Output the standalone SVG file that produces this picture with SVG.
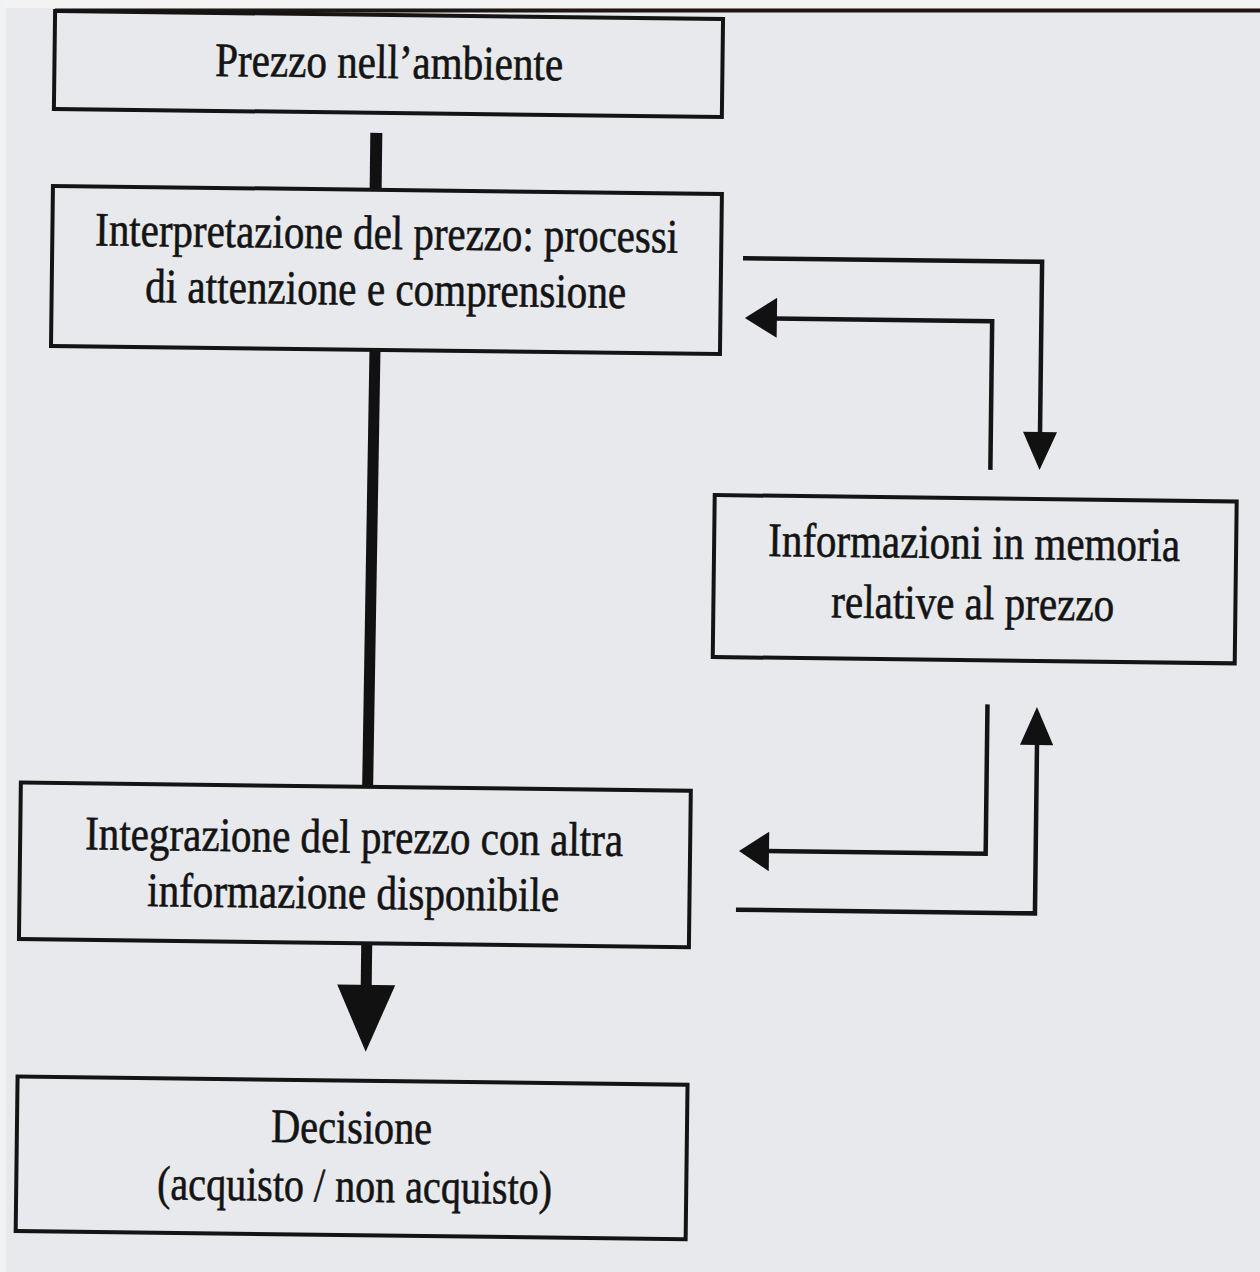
<svg xmlns="http://www.w3.org/2000/svg" width="1260" height="1272" viewBox="0 0 1260 1272">
  <style>
    .box { fill: none; stroke: #141414; stroke-width: 4; }
    .link { fill: none; stroke: #141414; stroke-width: 4.5; }
    .trunk { fill: none; stroke: #111; }
    .head { fill: #111; stroke: none; }
    .lbl { font-family: "Liberation Serif", "Times New Roman", serif; font-size: 48px; fill: #141414; stroke: #141414; stroke-width: 0.6; text-anchor: middle; }
  </style>

  <!-- page -->
  <rect x="0" y="0" width="1260" height="1272" fill="#e7e9ed"/>
  <rect x="0" y="0" width="1260" height="8" fill="#f3f3f4"/>
  <rect x="0" y="0" width="6" height="1272" fill="#f1f2f4"/>
  <line x1="55" y1="10.5" x2="1260" y2="10.5" stroke="#1e1712" stroke-width="4"/>

  <g transform="rotate(0.7 630 636)">
    <!-- connectors -->
    <g id="connectors">
      <!-- main flow -->
      <line class="trunk" x1="370.2" y1="136" x2="370.2" y2="193" stroke-width="12"/>
      <line class="trunk" x1="371.5" y1="353" x2="369.5" y2="790" stroke-width="11"/>
      <line class="trunk" x1="370.5" y1="946.5" x2="370.5" y2="990" stroke-width="11"/>
      <polygon class="head" points="341.5,988 399.5,988 370.8,1055"/>

      <!-- interpretation -> memory -->
      <path class="link" d="M738.4 256.8 H1037.5 V430"/>
      <polygon class="head" points="1020.5,427 1054.5,427 1037.5,465"/>

      <!-- memory -> interpretation -->
      <path class="link" d="M988.3 465.5 V316.8 H770"/>
      <polygon class="head" points="773,296 773,336 741,316.6"/>

      <!-- memory -> integration -->
      <path class="link" d="M988.3 700 V849.4 H768"/>
      <polygon class="head" points="771.6,830 771.6,869.5 741.6,849.6"/>

      <!-- integration -> memory -->
      <path class="link" d="M739.3 908.4 H1038.3 V738"/>
      <polygon class="head" points="1021.3,740 1054.5,740 1037.8,702"/>
    </g>

    <g id="node-prezzo-ambiente">
      <rect class="box" x="47.5" y="18" width="668" height="98"/>
      <text class="lbl" x="382.2" y="81" textLength="348" lengthAdjust="spacingAndGlyphs">Prezzo nell’ambiente</text>
    </g>

    <g id="node-interpretazione">
      <rect class="box" x="47.5" y="193" width="669" height="160"/>
      <text class="lbl" x="381.8" y="252" textLength="583" lengthAdjust="spacingAndGlyphs">Interpretazione del prezzo: processi</text>
      <text class="lbl" x="381.5" y="308" textLength="481" lengthAdjust="spacingAndGlyphs">di attenzione e comprensione</text>
    </g>

    <g id="node-memoria">
      <rect class="box" x="713" y="494" width="522" height="162"/>
      <text class="lbl" x="973" y="554.3" textLength="412" lengthAdjust="spacingAndGlyphs">Informazioni in memoria</text>
      <text class="lbl" x="972.3" y="614.8" textLength="283" lengthAdjust="spacingAndGlyphs">relative al prezzo</text>
    </g>

    <g id="node-integrazione">
      <rect class="box" x="22.7" y="790" width="670" height="156.5"/>
      <text class="lbl" x="356.6" y="856" textLength="538" lengthAdjust="spacingAndGlyphs">Integrazione del prezzo con altra</text>
      <text class="lbl" x="356.3" y="912" textLength="412" lengthAdjust="spacingAndGlyphs">informazione disponibile</text>
    </g>

    <g id="node-decisione">
      <rect class="box" x="23" y="1084" width="670" height="154.5"/>
      <text class="lbl" x="357.7" y="1146.4" textLength="161" lengthAdjust="spacingAndGlyphs">Decisione</text>
      <text class="lbl" x="361.4" y="1205" textLength="395" lengthAdjust="spacingAndGlyphs">(acquisto / non acquisto)</text>
    </g>
  </g>
</svg>
